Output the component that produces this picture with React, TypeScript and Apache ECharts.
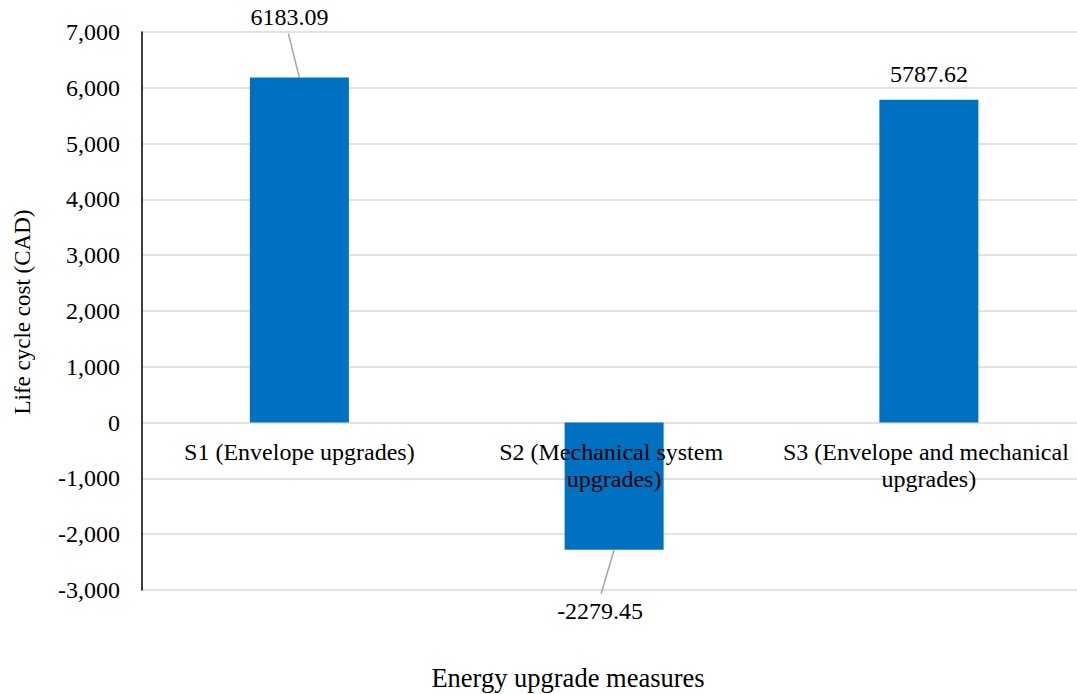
import React, { useEffect, useRef } from "react";
import * as echarts from "echarts";

const categories = [
  "S1 (Envelope upgrades)",
  "S2 (Mechanical system upgrades)",
  "S3 (Envelope and mechanical upgrades)",
];
const lifeCycleCost = [6183.09, -2279.45, 5787.62];
const yTicks = { min: -3000, max: 7000, interval: 1000 };

// label placement relative to the bar end (layout only)
const labelLayout = [
  { line: [-11, -44], text: [-10, -61] },
  { line: [-13, 44], text: [-14, 61] },
  { line: null, text: [0, -26] },
];

const FONT = "'Liberation Serif', 'Times New Roman', serif";

export default function App() {
  const ref = useRef<HTMLDivElement>(null);
  useEffect(() => {
    const chart = echarts.init(ref.current!, null, { renderer: "svg" });
    chart.setOption({
      animation: false,
      backgroundColor: "#ffffff",
      grid: { left: 142, right: 0.75, top: 32, bottom: 104, containLabel: false },
      xAxis: {
        type: "category",
        data: categories,
        z: 5,
        offset: -168,
        axisLine: { show: false },
        axisTick: { show: false },
        splitLine: { show: false },
        axisLabel: {
          interval: 0,
          margin: 16,
          color: "#000",
          fontFamily: FONT,
          fontSize: 24,
          lineHeight: 27,
          width: 295,
          overflow: "break",
          align: "center",
        },
      },
      yAxis: {
        type: "value",
        min: yTicks.min,
        max: yTicks.max,
        interval: yTicks.interval,
        axisLine: { show: true, lineStyle: { color: "#000", width: 1.5 } },
        axisTick: { show: false },
        splitLine: { show: true, lineStyle: { color: "#d9d9d9", width: 1.5 } },
        axisLabel: {
          margin: 22,
          color: "#000",
          fontFamily: FONT,
          fontSize: 24,
          formatter: (v: number) => v.toLocaleString("en-US"),
        },
      },
      graphic: [
        {
          type: "text",
          x: 22,
          y: 312,
          rotation: Math.PI / 2,
          style: {
            text: "Life cycle cost (CAD)",
            font: `23px ${FONT}`,
            fill: "#000",
            align: "center",
            verticalAlign: "middle",
          },
        },
        {
          type: "text",
          x: 568,
          y: 678,
          style: {
            text: "Energy upgrade measures",
            font: `26.5px ${FONT}`,
            fill: "#000",
            align: "center",
            verticalAlign: "middle",
          },
        },
      ],
      series: [
        {
          type: "bar",
          data: lifeCycleCost,
          barWidth: 99,
          itemStyle: { color: "#0070C0" },
          z: 2,
        },
        {
          type: "custom",
          coordinateSystem: "cartesian2d",
          clip: false,
          z: 10,
          data: lifeCycleCost.map((v, i) => [i, v]),
          encode: { x: 0, y: 1 },
          renderItem: (params: any, api: any) => {
            const idx = params.dataIndex;
            const p = api.coord([api.value(0), api.value(1)]);
            const lay = labelLayout[idx];
            const children: any[] = [];
            if (lay.line) {
              children.push({
                type: "line",
                shape: { x1: p[0], y1: p[1], x2: p[0] + lay.line[0], y2: p[1] + lay.line[1] },
                style: { stroke: "#a6a6a6", lineWidth: 1.5 },
              });
            }
            children.push({
              type: "text",
              x: p[0] + lay.text[0],
              y: p[1] + lay.text[1],
              style: {
                text: String(api.value(1)),
                font: `24px ${FONT}`,
                fill: "#000",
                align: "center",
                verticalAlign: "middle",
              },
            });
            return { type: "group", children };
          },
        },
      ],
    });
    return () => chart.dispose();
  }, []);
  return (
    <div
      style={{
        position: "absolute",
        left: 0,
        top: 0,
        width: 1077,
        height: 694,
        overflow: "hidden",
        background: "#fff",
      }}
    >
      <div ref={ref} style={{ width: 1087, height: 694 }} />
    </div>
  );
}
